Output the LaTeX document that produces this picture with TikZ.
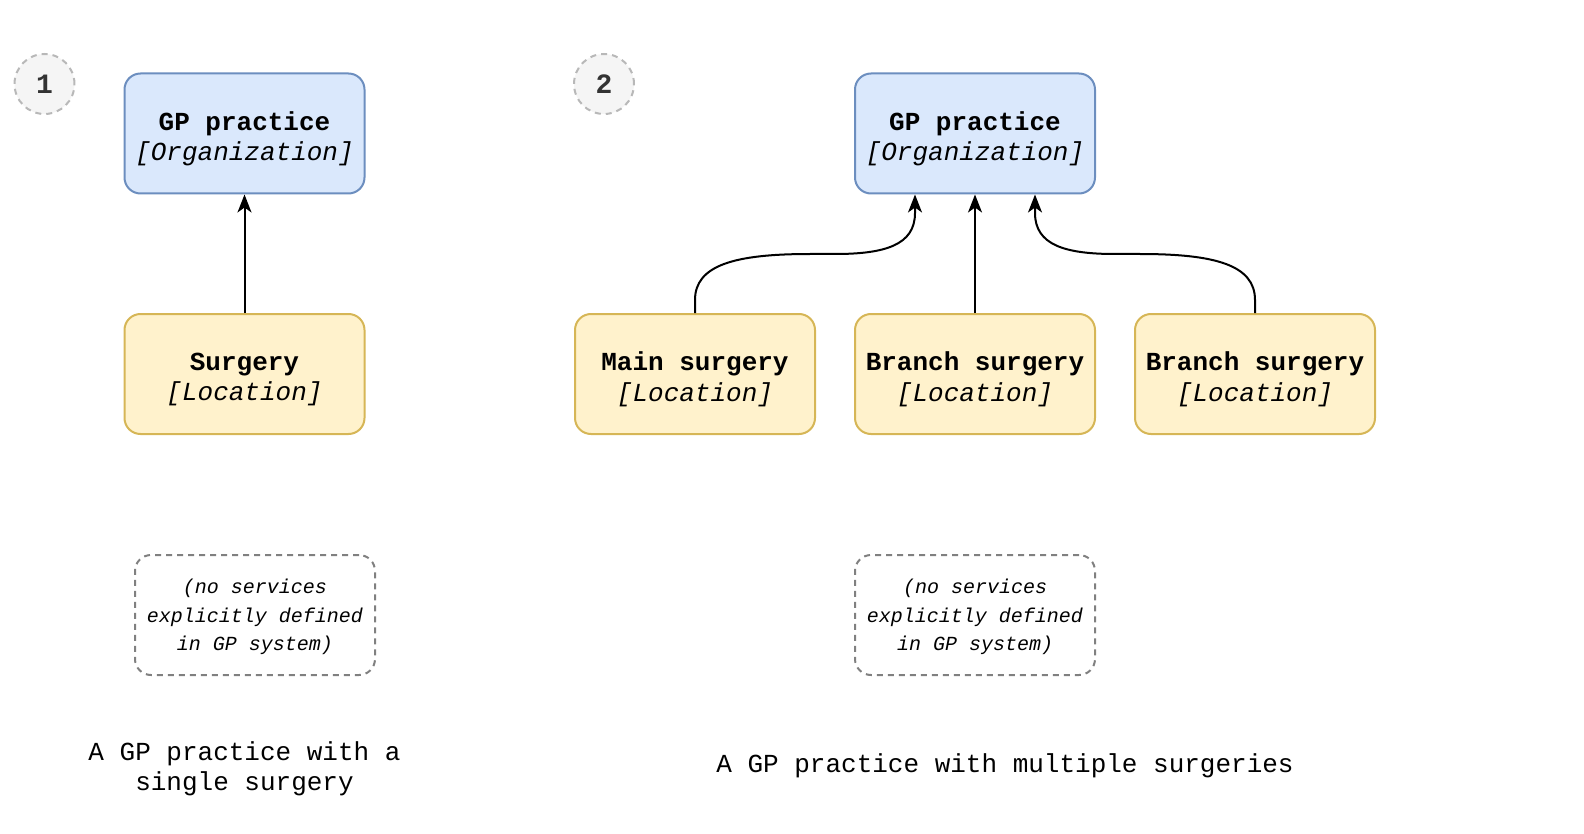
\documentclass[tikz,border=0pt]{standalone}
\usepackage{fontspec}
\setmainfont{Liberation Mono}
\usetikzlibrary{arrows.meta}
\definecolor{bluefill}{HTML}{DAE8FC}
\definecolor{bluedraw}{HTML}{6C8EBF}
\definecolor{yelfill}{HTML}{FFF2CC}
\definecolor{yeldraw}{HTML}{D6B656}
\definecolor{numfill}{HTML}{F5F5F5}
\definecolor{numdraw}{HTML}{B8B8B8}
\definecolor{notedraw}{HTML}{808080}
\definecolor{numtext}{HTML}{333333}
\tikzset{
  box/.style={rounded corners=16pt, line width=2pt, minimum width=240pt, minimum height=120pt,
    inner sep=0pt},
  boxtxt/.style={inner sep=0pt, align=center, font=\fontsize{26pt}{30.5pt}\selectfont},
  org/.style={box, fill=bluefill, draw=bluedraw},
  loc/.style={box, fill=yelfill, draw=yeldraw},
  note/.style={rounded corners=16pt, line width=2pt, draw=notedraw, dash pattern=on 6pt off 5pt,
    minimum width=240pt, minimum height=120pt, inner sep=0pt},
  notetxt/.style={inner sep=0pt, align=center, font=\fontsize{20pt}{28.3pt}\selectfont\itshape},
  num/.style={circle, fill=numfill, draw=numdraw, line width=2pt, dash pattern=on 6pt off 5pt,
    minimum size=60pt, inner sep=0pt, text=numtext, font=\fontsize{28pt}{30pt}\selectfont\bfseries},
  caption/.style={align=center, font=\fontsize{26pt}{30.5pt}\selectfont},
  conn/.style={line width=2pt, -{Stealth[length=18pt,width=14pt,inset=5pt]}}
}
\begin{document}
\begin{tikzpicture}[x=1pt,y=-1pt]
\useasboundingbox (0,0) rectangle (1584,834);
% panel 1
\node[num] (n1) at (44.5,84) {1};
\node[org] (gp1) at (244.5,133.5) {};
\node[boxtxt] (gp1t) at ([yshift=-5.5pt]gp1.center) {\textbf{GP practice}\\\textit{[Organization]}};
\node[loc] (s1) at (244.5,374) {};
\node[boxtxt] (s1t) at ([yshift=-5.5pt]s1.center) {\textbf{Surgery}\\\textit{[Location]}};
\node[note] (note1) at (255,615) {};
\node[notetxt] (note1t) at ([yshift=-2pt]note1.center) {(no services\\explicitly defined\\in GP system)};
\node[caption] (cap1) at (244.5,769) {A GP practice with a\\single surgery};
\draw[conn] (s1.north) -- (gp1.south);
% panel 2
\node[num] (n2) at (604,84) {2};
\node[org] (gp2) at (975,133.5) {};
\node[boxtxt] (gp2t) at ([yshift=-5.5pt]gp2.center) {\textbf{GP practice}\\\textit{[Organization]}};
\node[loc] (m2) at (695,374) {};
\node[boxtxt] (m2t) at ([yshift=-5.5pt]m2.center) {\textbf{Main surgery}\\\textit{[Location]}};
\node[loc] (b2) at (975,374) {};
\node[boxtxt] (b2t) at ([yshift=-5.5pt]b2.center) {\textbf{Branch surgery}\\\textit{[Location]}};
\node[loc] (c2) at (1255,374) {};
\node[boxtxt] (c2t) at ([yshift=-5.5pt]c2.center) {\textbf{Branch surgery}\\\textit{[Location]}};
\node[note] (note2) at (975,615) {};
\node[notetxt] (note2t) at ([yshift=-2pt]note2.center) {(no services\\explicitly defined\\in GP system)};
\node[caption] (cap2) at (1005,766) {A GP practice with multiple surgeries};
\coordinate (lt) at (915,193);
\coordinate (rt) at (1035,193);
\draw[conn] (m2.north) -- (695,300) .. controls (695,265) and (735,254) .. (810,254) -- (835,254)
  .. controls (885,254) and (915,245) .. (915,213) -- (gp2.south -| lt);
\draw[conn] (b2.north) -- (gp2.south);
\draw[conn] (c2.north) -- (1255,300) .. controls (1255,265) and (1215,254) .. (1140,254) -- (1115,254)
  .. controls (1065,254) and (1035,245) .. (1035,213) -- (gp2.south -| rt);
\end{tikzpicture}
\end{document}
